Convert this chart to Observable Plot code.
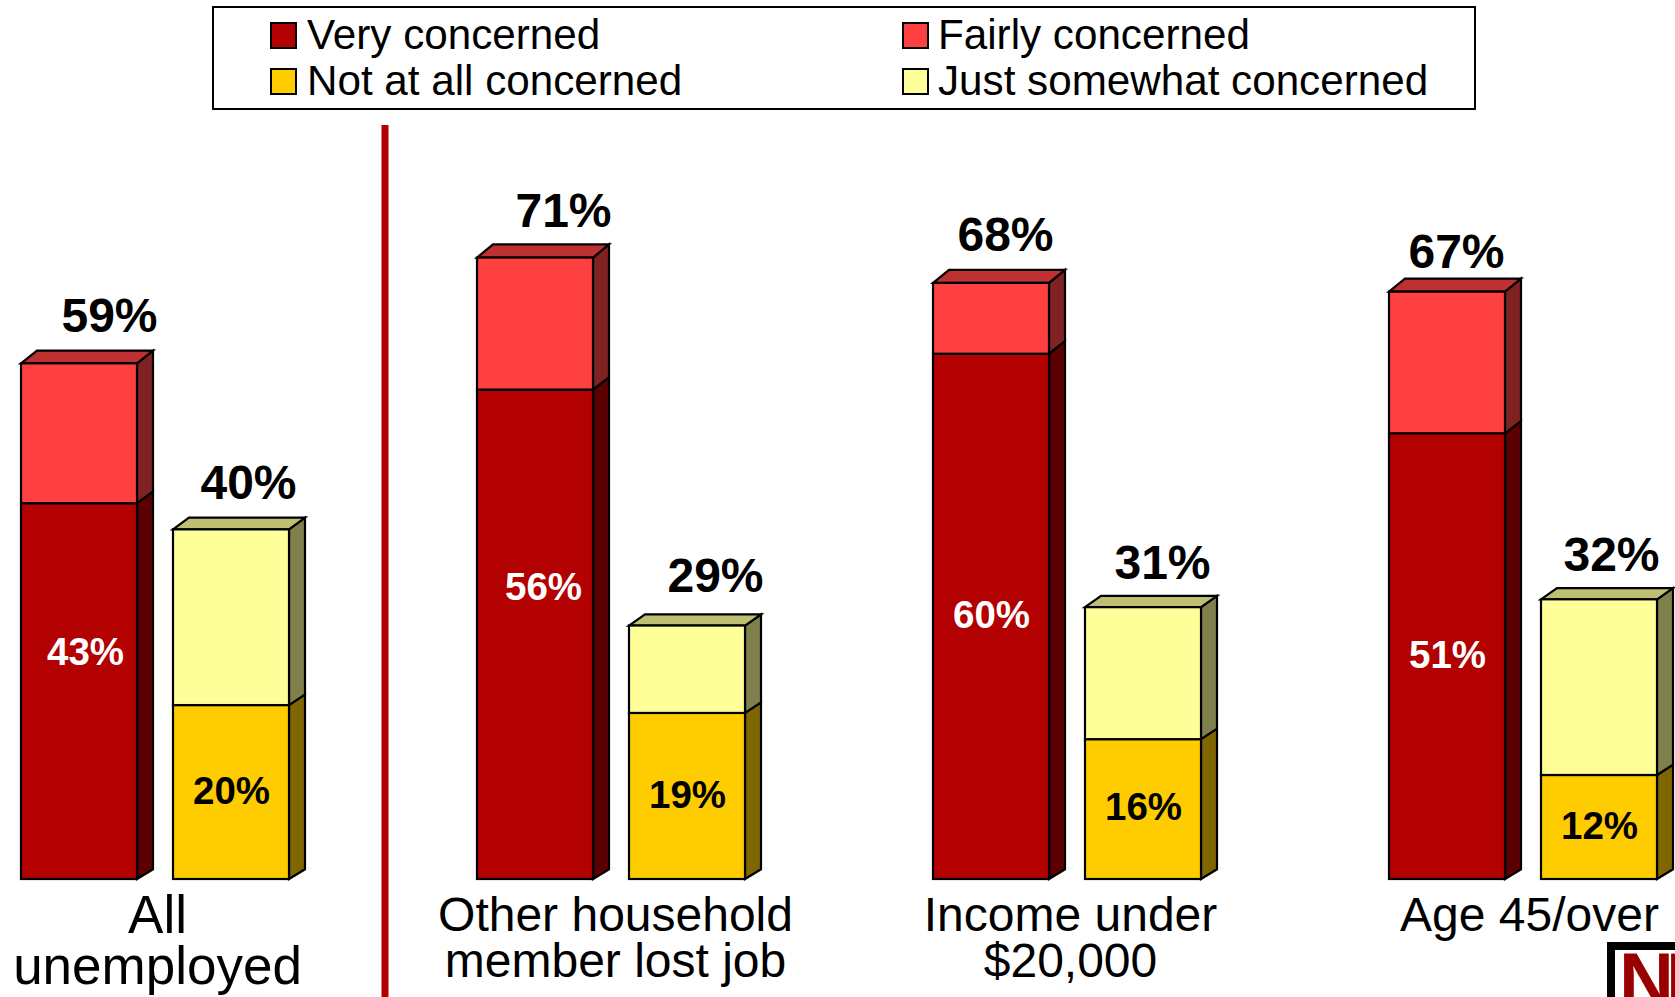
<!DOCTYPE html>
<html>
<head>
<meta charset="utf-8">
<script src="https://cdn.jsdelivr.net/npm/d3@7"></script>
<script src="https://cdn.jsdelivr.net/npm/@observablehq/plot@0.6"></script>
<style>
  html, body { margin: 0; padding: 0; background: #fff; overflow: hidden; }
  #page { position: relative; width: 1675px; height: 997px; font-family: "Liberation Sans", Arial, sans-serif; }
  #legend { position: relative; height: 125px; }
  #legend .box { position: absolute; left: 212px; top: 6px; width: 1260px; height: 100px; border: 2px solid #000; }
  #legend .sw { position: absolute; width: 23px; height: 23px; border: 2px solid #000; }
  #legend .lb { position: absolute; font-size: 42.2px; line-height: 46px; white-space: nowrap; color: #000; }
  #chart svg { display: block; max-width: none; }
  #logo { position: absolute; left: 1607px; top: 942px; width: 68px; height: 55px; box-sizing: border-box;
          border: 8px solid #000; border-right: none; border-bottom: none; overflow: hidden; background: #fff; }
  #logo span { position: absolute; left: 4px; top: -8px; font-size: 76px; line-height: 76px; font-weight: bold;
          letter-spacing: -8px; color: #990000; white-space: nowrap; }
</style>
</head>
<body>
<div id="page">
  <div id="legend"><div class="box"></div></div>
  <div id="chart"></div>
  <div id="logo"><span>NI</span></div>
</div>
<script>
// ---- data: printed labels ----
const groups = ["All unemployed", "Other household member lost job", "Income under $20,000", "Age 45/over"];
const groupLabels = ["All\nunemployed", "Other household\nmember lost job", "Income under\n$20,000", "Age 45/over"];
const veryLabel = [43, 56, 60, 51];
const concernedLabel = [59, 71, 68, 67];
const notAtAllLabel = [20, 19, 16, 12];
const unconcernedLabel = [40, 29, 31, 32];
// ---- data: bar heights (before rounding) ----
const veryConcerned = [43, 56, 60.1, 51];
const concernedTotal = [59, 71.1, 68.2, 67.2];
const notAtAllConcerned = [19.9, 19, 16, 11.9];
const unconcernedTotal = [40, 29, 31.1, 32];
const responses = ["Very concerned", "Fairly concerned", "Not at all concerned", "Just somewhat concerned"];

// ---- styles ----
const frontColors = ["#b30000", "#ff4040", "#ffcc00", "#ffff99"];
const sideColors = ["#5a0000", "#802222", "#806600", "#80804d"];
const topColors = ["#870000", "#bf3030", "#bf9900", "#bfbf73"];
const lineW = 2.2;
const depthX = 16;
const baseY = 754;
const pxPerUnit = 8.74;
const depthY = (py) => 9.7 + (baseY - py) * 0.0057;
const font = "Liberation Sans, Arial, sans-serif";

// [dx, dy] label nudges in pixels, per group
const topNudgeA = [[30, -47], [28, -46], [14, -48], [9, -40]];
const topNudgeB = [[17, -46], [28, -49], [19, -44], [12, -44]];
const veryNudge = [[6, -39], [8, -47], [0, -1], [0, -1]];
const notNudge = [[0, -1], [0, -1], [0, -2], [0, -1]];
const catDx = [78, 80, 79, 82];
const catSize = [53, 48, 48, 48];
const catLine = [0.96, 0.96, 0.96, 0.96];
const catDy = [17, 19, 19, 19];

// ---- derived tables ----
const bandA = (g) => g + "|a";
const bandB = (g) => g + "|b";
const bandGap = (g) => g + "|gap";
const xDomain = groups.flatMap((g) => [bandA(g), bandB(g), bandGap(g)]).slice(0, -1);

const segments = groups.flatMap((g, i) => [
  {band: bandA(g), y1: 0, y2: veryConcerned[i], response: responses[0]},
  {band: bandA(g), y1: veryConcerned[i], y2: concernedTotal[i], response: responses[1]},
  {band: bandB(g), y1: 0, y2: notAtAllConcerned[i], response: responses[2]},
  {band: bandB(g), y1: notAtAllConcerned[i], y2: unconcernedTotal[i], response: responses[3]}
]);

// 3-D side and top faces, drawn through the chart's own scales
function faces(index, {x, y}) {
  const g = d3.create("svg:g").attr("stroke", "#000").attr("stroke-width", lineW).attr("stroke-linejoin", "miter");
  for (const s of segments) {
    const k = responses.indexOf(s.response);
    const x1 = x(s.band) + x.bandwidth();
    const yb = y(s.y1), yt = y(s.y2);
    g.append("polygon").attr("fill", sideColors[k])
      .attr("points", [[x1, yb], [x1 + depthX, yb - depthY(yb)], [x1 + depthX, yt - depthY(yt)], [x1, yt]].join(" "));
    if (k === 1 || k === 3) {
      const x0 = x(s.band);
      const d = depthY(yt);
      g.append("polygon").attr("fill", topColors[k])
        .attr("points", [[x0, yt], [x1, yt], [x1 + depthX, yt - d], [x0 + depthX, yt - d]].join(" "));
    }
  }
  return g.node();
}

const pctText = (band, label, y, nudge, size, fill) => Plot.text([`${label}%`], {
  x: () => band, y: () => y, text: (d) => d,
  dx: nudge[0], dy: nudge[1], fontSize: size, fontWeight: "bold", fontFamily: font, fill,
  textAnchor: "middle", lineAnchor: "middle"
});

const plot = Plot.plot({
  width: 1675,
  height: 872,
  marginLeft: 20.7,
  marginRight: 18.3,
  marginTop: 0,
  marginBottom: 118,
  style: {background: "transparent", overflow: "visible"},
  x: {type: "band", domain: xDomain, paddingInner: 36 / 152, paddingOuter: 0, align: 0, axis: null},
  y: {domain: [0, baseY / pxPerUnit], axis: null},
  color: {domain: responses, range: frontColors},
  marks: [
    Plot.ruleX([bandGap(groups[0])], {x: (d) => d, dx: 1.5, y1: -118 / pxPerUnit, y2: baseY / pxPerUnit, stroke: "#b30000", strokeWidth: 7}),
    faces,
    Plot.barY(segments, {x: "band", y1: "y1", y2: "y2", fill: "response", stroke: "#000", strokeWidth: lineW}),
    ...groups.flatMap((g, i) => [
      pctText(bandA(g), concernedLabel[i], concernedTotal[i], topNudgeA[i], 48, "#000"),
      pctText(bandB(g), unconcernedLabel[i], unconcernedTotal[i], topNudgeB[i], 48, "#000"),
      pctText(bandA(g), veryLabel[i], veryConcerned[i] / 2, veryNudge[i], 38.5, "#fff"),
      pctText(bandB(g), notAtAllLabel[i], notAtAllConcerned[i] / 2, notNudge[i], 38.5, "#000"),
      Plot.text([groupLabels[i]], {
        x: () => bandA(g), y: () => 0, text: (d) => d, dx: catDx[i], dy: catDy[i],
        fontSize: catSize[i], fontFamily: font, fill: "#000", textAnchor: "middle", lineAnchor: "top",
        lineHeight: catLine[i]
      })
    ])
  ]
});
document.getElementById("chart").appendChild(plot);

// ---- legend ----
const legend = document.getElementById("legend");
const legendSlots = [
  {sx: 270, sy: 22, tx: 307, ty: 12},
  {sx: 902, sy: 22, tx: 938, ty: 12},
  {sx: 270, sy: 68, tx: 307, ty: 58},
  {sx: 902, sy: 68, tx: 938, ty: 58}
];
responses.forEach((r, i) => {
  const s = legendSlots[i];
  const sw = document.createElement("div");
  sw.className = "sw";
  sw.style.cssText = `left:${s.sx}px;top:${s.sy}px;background:${frontColors[i]}`;
  const lb = document.createElement("div");
  lb.className = "lb";
  lb.style.cssText = `left:${s.tx}px;top:${s.ty}px`;
  lb.textContent = r;
  legend.append(sw, lb);
});
</script>
</body>
</html>
